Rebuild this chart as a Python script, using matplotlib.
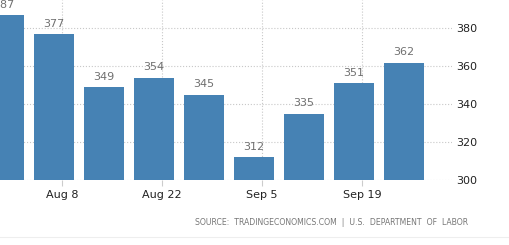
import numpy as np
import matplotlib.pyplot as plt

# weekly values (thousands)
values = [387, 377, 349, 354, 345, 312, 335, 351, 362]
tick_labels = ['Aug 8', 'Aug 22', 'Sep 5', 'Sep 19']
tick_bars = [1, 3, 5, 7]
y_ticks = [300, 320, 340, 360, 380]
source = 'SOURCE:  TRADINGECONOMICS.COM  |  U.S.  DEPARTMENT  OF  LABOR'

fig = plt.figure(figsize=(5.1, 2.45), dpi=100)
ax = fig.add_axes([0, 65 / 245, 452 / 510, 180 / 245])

x = np.arange(len(values))
ax.bar(x, values, width=0.8, color='#4682b4', zorder=2)
for xi, v in zip(x, values):
    ax.text(xi, v + 2.8, str(v), ha='center', va='bottom',
            fontsize=8, color='#707070')

ax.set_xlim(-0.08, 8.96)
ax.set_ylim(300, 395)

ax.set_xticks([b + 0.16 for b in tick_bars])
ax.set_xticklabels(tick_labels)
ax.set_yticks(y_ticks)
ax.yaxis.tick_right()
ax.tick_params(axis='y', length=0, pad=3, labelsize=8, labelcolor='#222222')
ax.tick_params(axis='x', length=4, color='#cccccc', pad=3, labelsize=8,
               labelcolor='#222222')

ax.grid(True, linestyle=':', color='#c8c8c8', linewidth=0.8, zorder=0)
for s in ax.spines.values():
    s.set_visible(False)

fig.text(468 / 510, 1 - 222 / 245, source, ha='right', va='center',
         fontsize=5.6, color='#777777')
fig.add_artist(plt.Line2D([0, 1], [1 - 237 / 245] * 2, color='#eeeeee',
                          linewidth=0.8))

fig.savefig('out.png', dpi=100)
